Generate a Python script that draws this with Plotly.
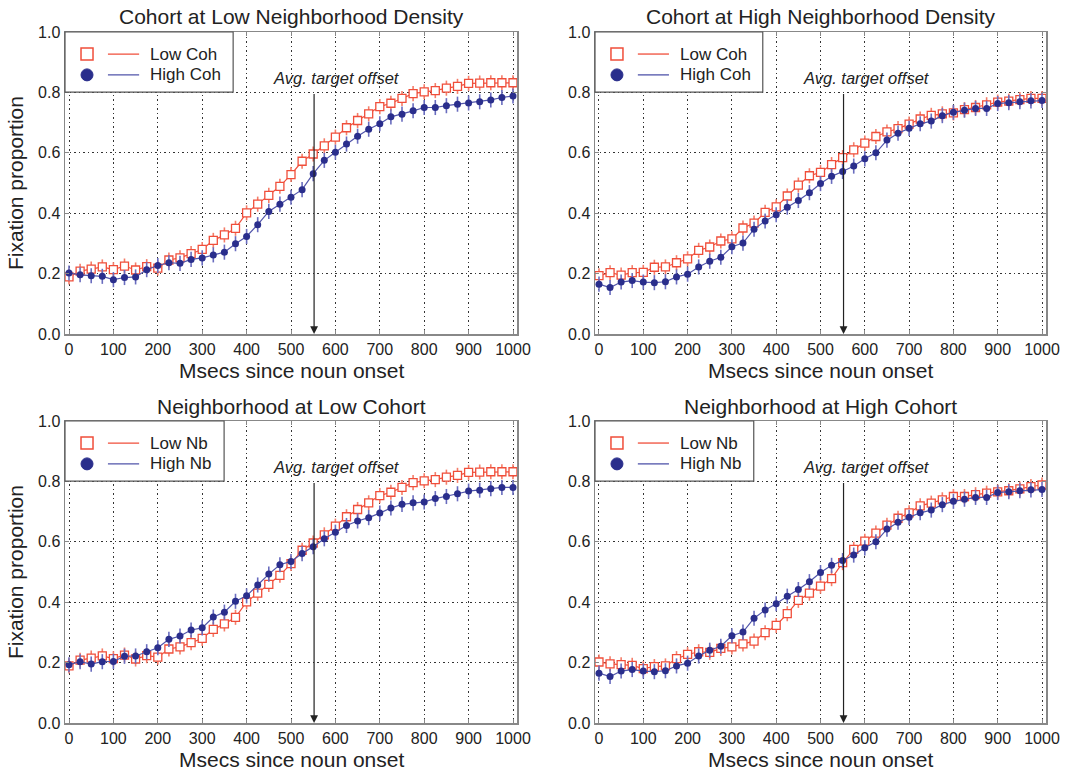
import plotly.graph_objects as go

# ---------------- data ----------------
msecs = list(range(0, 1001, 25))

# condition curves (fixation proportion)
low_coh_low_nb = [0.189, 0.208, 0.215, 0.222, 0.213, 0.225, 0.212, 0.223, 0.218, 0.245,
                  0.252, 0.266, 0.280, 0.310, 0.328, 0.350, 0.401, 0.430, 0.459, 0.489,
                  0.528, 0.572, 0.596, 0.623, 0.652, 0.683, 0.707, 0.729, 0.753, 0.764,
                  0.780, 0.796, 0.802, 0.806, 0.814, 0.820, 0.830, 0.831, 0.832, 0.832, 0.832]
high_coh_low_nb = [0.202, 0.196, 0.193, 0.191, 0.180, 0.187, 0.189, 0.213, 0.227, 0.236,
                   0.234, 0.247, 0.252, 0.262, 0.271, 0.299, 0.323, 0.362, 0.406, 0.430,
                   0.453, 0.478, 0.531, 0.575, 0.602, 0.629, 0.655, 0.678, 0.696, 0.719,
                   0.728, 0.739, 0.750, 0.750, 0.756, 0.761, 0.765, 0.769, 0.775, 0.783, 0.788]
low_coh_high_nb = [0.193, 0.203, 0.195, 0.203, 0.204, 0.221, 0.222, 0.236, 0.249, 0.277,
                   0.288, 0.308, 0.315, 0.351, 0.367, 0.403, 0.421, 0.457, 0.493, 0.524,
                   0.535, 0.561, 0.584, 0.610, 0.632, 0.654, 0.669, 0.680, 0.695, 0.712,
                   0.724, 0.729, 0.732, 0.743, 0.750, 0.759, 0.768, 0.771, 0.776, 0.780, 0.780]
high_coh_high_nb = [0.165, 0.154, 0.172, 0.177, 0.172, 0.170, 0.173, 0.189, 0.198, 0.222,
                    0.241, 0.254, 0.289, 0.301, 0.347, 0.374, 0.395, 0.420, 0.442, 0.468,
                    0.498, 0.522, 0.538, 0.556, 0.580, 0.600, 0.642, 0.665, 0.681, 0.696,
                    0.705, 0.723, 0.734, 0.741, 0.747, 0.747, 0.763, 0.766, 0.769, 0.772, 0.773]

error_half = 0.025          # approximate half-length of the error bars
target_offset = 552         # Avg. target offset (ms)

panel_titles = ["Cohort at Low Neighborhood Density", "Cohort at High Neighborhood Density",
                "Neighborhood at Low Cohort", "Neighborhood at High Cohort"]
panel_red = [low_coh_low_nb, low_coh_high_nb, low_coh_low_nb, high_coh_low_nb]
panel_blue = [high_coh_low_nb, high_coh_high_nb, low_coh_high_nb, high_coh_high_nb]
legend_labels = [("Low Coh", "High Coh"), ("Low Coh", "High Coh"),
                 ("Low Nb", "High Nb"), ("Low Nb", "High Nb")]
x_ticks = list(range(0, 1001, 100))
y_ticks = [0.0, 0.2, 0.4, 0.6, 0.8, 1.0]

# ---------------- style ----------------
W, H = 1071, 770
FONT = "Liberation Sans, Arial, Helvetica, sans-serif"
TXT = "#222222"
RED = "rgb(240,78,58)"
RED_ERR = "rgb(244,125,105)"
BLUE = "rgb(42,46,140)"
BLUE_LINE = "rgb(80,84,170)"
BLUE_ERR = "rgb(105,108,190)"
FRAME = "#888888"

xdom = [[65 / W, 517 / W], [595 / W, 1046 / W]]
ydom = [[(H - 334) / H, (H - 32) / H], [(H - 723) / H, (H - 421) / H]]

fig = go.Figure()
shapes = []
annotations = []

for i in range(4):
    row, col = divmod(i, 2)
    n = "" if i == 0 else str(i + 1)
    xa, ya = "x" + n, "y" + n
    # red (low) series
    fig.add_trace(go.Scatter(
        x=msecs, y=panel_red[i], xaxis=xa, yaxis=ya, mode="lines+markers",
        line=dict(color=RED, width=1.2),
        marker=dict(symbol="square", size=8, color="white", line=dict(color=RED, width=1.3)),
        error_y=dict(type="constant", value=error_half, color=RED_ERR, thickness=1.6, width=0),
        showlegend=False, name=legend_labels[i][0]))
    # blue (high) series
    fig.add_trace(go.Scatter(
        x=msecs, y=panel_blue[i], xaxis=xa, yaxis=ya, mode="lines+markers",
        line=dict(color=BLUE_LINE, width=1.2),
        marker=dict(symbol="circle", size=7, color=BLUE, line=dict(width=0)),
        error_y=dict(type="constant", value=error_half, color=BLUE_ERR, thickness=1.6, width=0),
        showlegend=False, name=legend_labels[i][1]))

    axis_common = dict(showline=True, mirror="ticks", linecolor=FRAME, linewidth=1.5,
                       ticks="inside", ticklen=4, tickcolor=FRAME, tickwidth=1,
                       showgrid=True, gridcolor="#333333", gridwidth=1, griddash="1.5px,3px",
                       zeroline=False, automargin=False,
                       tickfont=dict(family=FONT, size=16, color=TXT))
    fig.update_layout(**{
        ("xaxis" + n): dict(domain=xdom[col], anchor=ya, range=[-9, 1009],
                            tickvals=x_ticks, ticktext=[str(v) for v in x_ticks], **axis_common),
        ("yaxis" + n): dict(domain=ydom[row], anchor=xa, range=[0, 1],
                            tickvals=y_ticks, ticktext=["%.1f" % v for v in y_ticks], **axis_common),
    })

    xd, yd = xa + " domain", ya + " domain"
    # subplot title
    annotations.append(dict(xref=xd, yref="paper", x=0.5,
                            y=(H - (16 if row == 0 else 406)) / H, text=panel_titles[i],
                            showarrow=False, xanchor="center", yanchor="middle",
                            font=dict(family=FONT, size=21, color=TXT)))
    # x axis title
    annotations.append(dict(xref=xd, yref="paper", x=0.5,
                            y=(H - (370 if row == 0 else 759)) / H,
                            text="Msecs since noun onset", showarrow=False,
                            xanchor="center", yanchor="middle",
                            font=dict(family=FONT, size=21, color=TXT)))
    # y axis title (left column)
    if col == 0:
        annotations.append(dict(xref="paper", yref=yd, x=15 / W, y=0.5,
                                text="Fixation proportion", showarrow=False, textangle=-90,
                                xanchor="center", yanchor="middle",
                                font=dict(family=FONT, size=21, color=TXT)))
    # target offset arrow
    annotations.append(dict(xref=xa, yref=ya, x=target_offset, y=0.0,
                            axref=xa, ayref=ya, ax=target_offset, ay=0.80,
                            text="", showarrow=True, arrowhead=2, arrowsize=1.3,
                            arrowwidth=1.2, arrowcolor="#222222", standoff=0))
    annotations.append(dict(xref=xa, yref=ya, x=603, y=0.848, text="Avg. target offset",
                            showarrow=False, xanchor="center", yanchor="middle",
                            font=dict(family=FONT, size=16.5, color=TXT, style="italic")))

    # custom legend
    box_right = 0.372 if i < 2 else 0.352
    shapes.append(dict(type="rect", xref=xd, yref=yd, x0=0, x1=box_right, y0=0.801, y1=1.0,
                       fillcolor="white", line=dict(color="#555555", width=1.2), layer="above"))
    for k, (yy, lbl) in enumerate([(0.927, legend_labels[i][0]), (0.858, legend_labels[i][1])]):
        if k == 0:
            shapes.append(dict(type="rect", xref=xd, yref=yd, xsizemode="pixel", ysizemode="pixel",
                               xanchor=0.0487, yanchor=yy, x0=-6, x1=6, y0=-6, y1=6,
                               fillcolor="white", line=dict(color=RED, width=1.5), layer="above"))
            lc = RED
        else:
            shapes.append(dict(type="circle", xref=xd, yref=yd, xsizemode="pixel", ysizemode="pixel",
                               xanchor=0.0487, yanchor=yy, x0=-6, x1=6, y0=-6, y1=6,
                               fillcolor=BLUE, line=dict(color=BLUE, width=1), layer="above"))
            lc = BLUE_LINE
        shapes.append(dict(type="line", xref=xd, yref=yd, x0=0.095, x1=0.164, y0=yy, y1=yy,
                           line=dict(color=lc, width=1.3), layer="above"))
        annotations.append(dict(xref=xd, yref=yd, x=0.184, y=yy, text=lbl, showarrow=False,
                                xanchor="left", yanchor="middle",
                                font=dict(family=FONT, size=17, color=TXT)))

fig.update_layout(width=W, height=H, margin=dict(l=0, r=0, t=0, b=0, autoexpand=False),
                  paper_bgcolor="white", plot_bgcolor="white",
                  font=dict(family=FONT, color=TXT), hovermode=False,
                  shapes=shapes, annotations=annotations, showlegend=False)

fig.write_html("out.html",
               config={"displayModeBar": False, "staticPlot": True},
               post_script="document.body.style.margin='0';document.body.style.overflow='hidden';")
